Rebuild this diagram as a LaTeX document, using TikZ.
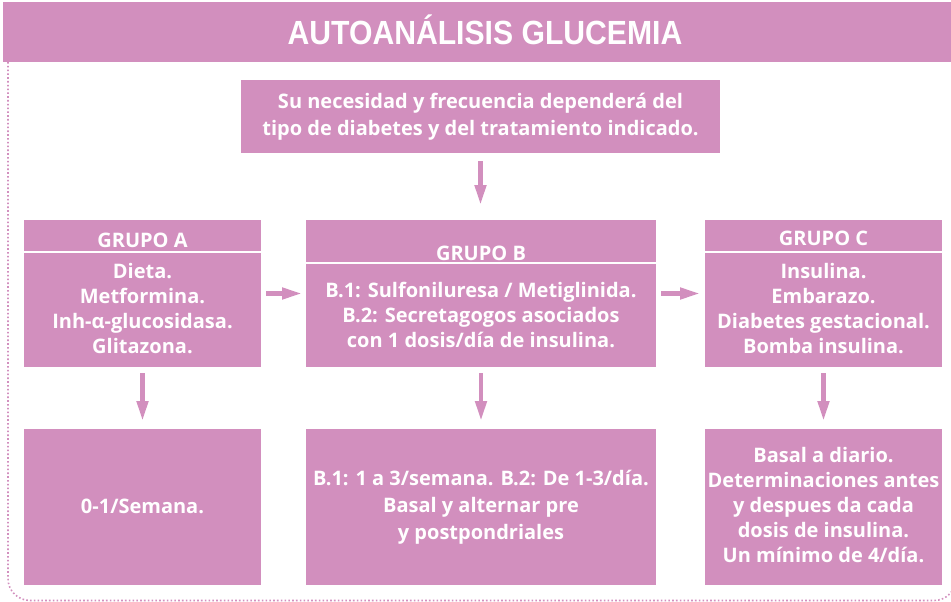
\documentclass[tikz,border=0pt]{standalone}
\usepackage{fontspec}
\setmainfont{Open Sans}
\newfontfamily\titlefont{Liberation Sans}
\usetikzlibrary{arrows.meta}
\definecolor{pinkc}{RGB}{210,143,190}
\tikzset{
  box/.style={fill=pinkc, inner sep=0pt, outer sep=0pt},
  txt/.style={text=white, font=\bfseries\fontsize{20}{25}\selectfont, align=center, inner sep=0pt},
  sep/.style={draw=white, line width=1.5pt},
  arr/.style={draw=pinkc, line width=4.5pt, -{Triangle[length=20pt,width=11pt]}},
  frame/.style={draw=pinkc, line width=1.6pt, dash pattern=on 1.6pt off 2.2pt, rounded corners=22pt}
}
\begin{document}
\begin{tikzpicture}[x=1pt,y=-1pt]
\useasboundingbox (0,0) rectangle (951,602);
\begin{scope}
\clip (0,0) rectangle (951,602);
\draw[frame] (8,62) -- (8,600.5) -- (956,600.5) -- (956,62);
\end{scope}
% title
\node[box, minimum width=948pt, minimum height=60pt] (title) at (477,32) {};
\node[text=white, inner sep=0pt] (titletxt) at (485,30) {\scalebox{0.9}[1]{\titlefont\bfseries\fontsize{33.5}{33.5}\selectfont AUTOANÁLISIS GLUCEMIA}};
% top box
\node[box, minimum width=479pt, minimum height=73pt] (top) at (480.5,116.5) {};
\node[txt] (toptxt) at (480.5,116.5) {Su necesidad y frecuencia dependerá del\\[2pt]tipo de diabetes y del tratamiento indicado.};
% group boxes
\node[box, minimum width=237pt, minimum height=147pt] (ga) at (142.5,293.5) {};
\node[box, minimum width=350pt, minimum height=147pt] (gb) at (481,293.5) {};
\node[box, minimum width=237pt, minimum height=147pt] (gc) at (823.5,293.5) {};
\draw[sep] (ga.west |- 0,252) -- (ga.east |- 0,252);
\draw[sep] (gb.west |- 0,263) -- (gb.east |- 0,263);
\draw[sep] (gc.west |- 0,252) -- (gc.east |- 0,252);
\node[txt] (gah) at (142.5,240) {GRUPO A};
\node[txt] (gbh) at (481,253.5) {GRUPO B};
\node[txt] (gch) at (823.5,238.5) {GRUPO C};
\node[txt] (gat) at (142.5,309) {Dieta.\\Metformina.\\Inh-α-glucosidasa.\\Glitazona.};
\node[txt] (gbt) at (481,315) {B.1: Sulfoniluresa / Metiglinida.\\B.2: Secretagogos asociados\\con 1 dosis/día de insulina.};
\node[txt] (gct) at (823.5,309) {Insulina.\\Embarazo.\\Diabetes gestacional.\\Bomba insulina.};
% bottom boxes
\node[box, minimum width=237pt, minimum height=156pt] (ba) at (142.5,507) {};
\node[box, minimum width=350pt, minimum height=156pt] (bb) at (481,507) {};
\node[box, minimum width=237pt, minimum height=156pt] (bc) at (823.5,507) {};
\node[txt] (bat) at (142.5,506.5) {0-1/Semana.};
\node[txt] (bbt) at (481,507) {B.1: 1 a 3/semana. B.2: De 1-3/día.\\[2pt]Basal y alternar pre\\[2pt]y postpondriales};
\node[txt] (bct) at (823.5,505) {Basal a diario.\\Determinaciones antes\\y despues da cada\\dosis de insulina.\\Un mínimo de 4/día.};
% arrows
\draw[arr, shorten <=8pt, shorten >=15pt] (top.south) -- (top.south |- gb.north);
\draw[arr, shorten <=5pt, shorten >=4pt] (ga.east) -- (gb.west);
\draw[arr, shorten <=5pt, shorten >=5pt] (gb.east) -- (gc.west);
\draw[arr, shorten <=6pt, shorten >=8pt] (ga.south) -- (ba.north);
\draw[arr, shorten <=6pt, shorten >=8pt] (gb.south) -- (bb.north);
\draw[arr, shorten <=6pt, shorten >=8pt] (gc.south) -- (bc.north);
\end{tikzpicture}
\end{document}
